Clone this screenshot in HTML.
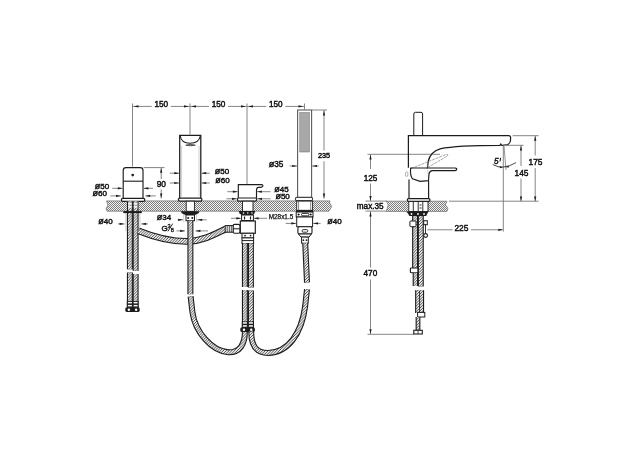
<!DOCTYPE html>
<html><head><meta charset="utf-8"><style>
html,body{margin:0;padding:0;background:#fff;}
svg{display:block;will-change:transform;}
text{font-family:"Liberation Sans",sans-serif;fill:#111;}
</style></head><body>
<svg width="640" height="451" viewBox="0 0 640 451">
<defs>
<pattern id="ct" width="2" height="2" patternUnits="userSpaceOnUse">
<rect width="2" height="2" fill="#f2f2f2"/><rect width="1" height="1" fill="#7e7e7e"/><rect x="1" y="1" width="1" height="1" fill="#7e7e7e"/>
</pattern>
<pattern id="br" width="2.8" height="2.8" patternUnits="userSpaceOnUse">
<rect width="2.8" height="2.8" fill="#f4f4f4"/><path d="M-0.7,0.7 L0.7,-0.7 M0,2.8 L2.8,0 M2.1,3.5 L3.5,2.1" stroke="#262626" stroke-width="0.85"/>
</pattern>
</defs>
<rect width="640" height="451" fill="#fff"/>

<line x1="132.5" y1="103.5" x2="132.5" y2="166.5" stroke="#858585" stroke-width="1.0" />
<line x1="190" y1="103.5" x2="190" y2="134.5" stroke="#858585" stroke-width="1.0" />
<line x1="247" y1="103.5" x2="247" y2="184" stroke="#858585" stroke-width="1.0" />
<line x1="304.5" y1="103.5" x2="304.5" y2="109.4" stroke="#858585" stroke-width="1.0" />
<line x1="132.5" y1="106.4" x2="151.75" y2="106.4" stroke="#858585" stroke-width="1.0" />
<line x1="170.75" y1="106.4" x2="190" y2="106.4" stroke="#858585" stroke-width="1.0" />
<path d="M133.70,106.40 L138.50,105.30 L138.50,107.50Z" fill="#1c1c1c"/>
<path d="M188.80,106.40 L184.00,107.50 L184.00,105.30Z" fill="#1c1c1c"/>
<text x="161.25" y="107.20" font-size="8.2" text-anchor="middle" stroke="#111" stroke-width="0.45" >150</text>
<line x1="190" y1="106.4" x2="209.0" y2="106.4" stroke="#858585" stroke-width="1.0" />
<line x1="228.0" y1="106.4" x2="247" y2="106.4" stroke="#858585" stroke-width="1.0" />
<path d="M191.20,106.40 L196.00,105.30 L196.00,107.50Z" fill="#1c1c1c"/>
<path d="M245.80,106.40 L241.00,107.50 L241.00,105.30Z" fill="#1c1c1c"/>
<text x="218.5" y="107.20" font-size="8.2" text-anchor="middle" stroke="#111" stroke-width="0.45" >150</text>
<line x1="247" y1="106.4" x2="266.25" y2="106.4" stroke="#858585" stroke-width="1.0" />
<line x1="285.25" y1="106.4" x2="304.5" y2="106.4" stroke="#858585" stroke-width="1.0" />
<path d="M248.20,106.40 L253.00,105.30 L253.00,107.50Z" fill="#1c1c1c"/>
<path d="M303.30,106.40 L298.50,107.50 L298.50,105.30Z" fill="#1c1c1c"/>
<text x="275.75" y="107.20" font-size="8.2" text-anchor="middle" stroke="#111" stroke-width="0.45" >150</text>
<path d="M107,200.9 L330,200.9 L329.6,202.5 L331.7,206.7 L328.8,211.2 L107,211.2 L106.2,208.5 L108,205 L106.5,200.9Z" fill="url(#ct)" stroke="#6a6a6a" stroke-width="0.7"/>
<path d="M123.2,198.3 L123.2,170.5 Q123.2,167.6 126,167.6 L140.2,167.6 Q143,167.6 143,170.5 L143,198.3" fill="#fff" stroke="#1c1c1c" stroke-width="1.15"/>
<line x1="123.2" y1="181.2" x2="143" y2="181.2" stroke="#1c1c1c" stroke-width="1.1" />
<circle cx="132.7" cy="175.1" r="1.35" fill="#1c1c1c"/>
<rect x="121.4" y="198.3" width="23.4" height="3" rx="1.4" fill="#fff" stroke="#1c1c1c" stroke-width="1.2"/>
<line x1="143.5" y1="167.6" x2="164.5" y2="167.6" stroke="#858585" stroke-width="1.0" />
<line x1="161.2" y1="167.6" x2="161.2" y2="179" stroke="#858585" stroke-width="1.0" />
<line x1="161.2" y1="189.5" x2="161.2" y2="198.3" stroke="#858585" stroke-width="1.0" />
<path d="M161.20,167.90 L162.30,172.70 L160.10,172.70Z" fill="#1c1c1c"/>
<path d="M161.20,198.30 L160.10,193.50 L162.30,193.50Z" fill="#1c1c1c"/>
<text x="161.3" y="186.80" font-size="8.4" text-anchor="middle" stroke="#111" stroke-width="0.45" >90</text>
<text x="109.2" y="188.80" font-size="8" text-anchor="end" stroke="#111" stroke-width="0.45" ><tspan font-size="9.0">ø</tspan>50</text>
<line x1="112.2" y1="188.3" x2="122.60000000000001" y2="188.3" stroke="#858585" stroke-width="1.0" />
<path d="M122.60,188.30 L117.80,189.40 L117.80,187.20Z" fill="#1c1c1c"/>
<line x1="143.6" y1="188.3" x2="153" y2="188.3" stroke="#858585" stroke-width="1.0" />
<path d="M143.60,188.30 L148.40,187.20 L148.40,189.40Z" fill="#1c1c1c"/>
<text x="107" y="196.40" font-size="8" text-anchor="end" stroke="#111" stroke-width="0.45" ><tspan font-size="9.0">ø</tspan>60</text>
<line x1="110.4" y1="195.9" x2="120.80000000000001" y2="195.9" stroke="#858585" stroke-width="1.0" />
<path d="M120.80,195.90 L116.00,197.00 L116.00,194.80Z" fill="#1c1c1c"/>
<line x1="145.4" y1="195.9" x2="155.8" y2="195.9" stroke="#858585" stroke-width="1.0" />
<path d="M145.40,195.90 L150.20,194.80 L150.20,197.00Z" fill="#1c1c1c"/>
<path d="M179.7,198.2 L179.7,135.3 L200.8,135.3 L200.8,198.2" fill="#fff" stroke="#1c1c1c" stroke-width="1.25"/>
<path d="M180.2,136 C181,141 185,143.2 190,143.2 C195,143.2 199.5,141 200.3,136" fill="none" stroke="#1c1c1c" stroke-width="1.1"/>
<path d="M185.7,145.2 Q190.3,143.4 195.3,145.2 Q190.3,146.4 185.7,145.2Z" fill="#888" stroke="#333" stroke-width="0.7"/>
<line x1="181.6" y1="146" x2="181.6" y2="196.5" stroke="#c4c4c4" stroke-width="0.8" />
<line x1="199.0" y1="146" x2="199.0" y2="196.5" stroke="#c4c4c4" stroke-width="0.8" />
<rect x="178.4" y="198.2" width="23.5" height="3" rx="1.4" fill="#fff" stroke="#1c1c1c" stroke-width="1.2"/>
<text x="222" y="173.50" font-size="8" text-anchor="middle" stroke="#111" stroke-width="0.45" ><tspan font-size="9.0">ø</tspan>50</text>
<line x1="169.7" y1="173.2" x2="179.1" y2="173.2" stroke="#858585" stroke-width="1.0" />
<path d="M179.10,173.20 L174.30,174.30 L174.30,172.10Z" fill="#1c1c1c"/>
<line x1="201.4" y1="173.2" x2="209.8" y2="173.2" stroke="#858585" stroke-width="1.0" />
<path d="M201.40,173.20 L206.20,172.10 L206.20,174.30Z" fill="#1c1c1c"/>
<text x="222.5" y="183.20" font-size="8" text-anchor="middle" stroke="#111" stroke-width="0.45" ><tspan font-size="9.0">ø</tspan>60</text>
<line x1="169.7" y1="183.0" x2="179.1" y2="183.0" stroke="#858585" stroke-width="1.0" />
<path d="M179.10,183.00 L174.30,184.10 L174.30,181.90Z" fill="#1c1c1c"/>
<line x1="201.4" y1="183.0" x2="209.8" y2="183.0" stroke="#858585" stroke-width="1.0" />
<path d="M201.40,183.00 L206.20,181.90 L206.20,184.10Z" fill="#1c1c1c"/>
<path d="M238.3,198 L238.3,184.6 L261.5,184.6 Q263.2,184.8 262.8,186.2 Q262.3,187.3 260.5,187.3 L258.5,187.3 Q256.5,187.6 256.5,190 L256.5,198" fill="#fff" stroke="#1c1c1c" stroke-width="1.15"/>
<rect x="237.4" y="198" width="19.2" height="3.2" rx="1.4" fill="#fff" stroke="#1c1c1c" stroke-width="1.2"/>
<text x="281.4" y="191.90" font-size="8" text-anchor="middle" stroke="#111" stroke-width="0.45" ><tspan font-size="9.0">ø</tspan>45</text>
<line x1="227.3" y1="191.7" x2="237.70000000000002" y2="191.7" stroke="#858585" stroke-width="1.0" />
<path d="M237.70,191.70 L232.90,192.80 L232.90,190.60Z" fill="#1c1c1c"/>
<line x1="257.1" y1="191.7" x2="270.5" y2="191.7" stroke="#858585" stroke-width="1.0" />
<path d="M257.10,191.70 L261.90,190.60 L261.90,192.80Z" fill="#1c1c1c"/>
<text x="282.6" y="199.40" font-size="8" text-anchor="middle" stroke="#111" stroke-width="0.45" ><tspan font-size="9.0">ø</tspan>50</text>
<line x1="226.4" y1="198.8" x2="236.8" y2="198.8" stroke="#858585" stroke-width="1.0" />
<path d="M236.80,198.80 L232.00,199.90 L232.00,197.70Z" fill="#1c1c1c"/>
<line x1="257.20000000000005" y1="198.8" x2="270.6" y2="198.8" stroke="#858585" stroke-width="1.0" />
<path d="M257.20,198.80 L262.00,197.70 L262.00,199.90Z" fill="#1c1c1c"/>
<rect x="297.6" y="110" width="14" height="87.6" rx="0" fill="#fff" stroke="#5a5a5a" stroke-width="1.1"/>
<rect x="299.8" y="112.6" width="9.6" height="39.4" fill="#a8a8a8" stroke="#666" stroke-width="0.5"/>
<rect x="295.4" y="197.4" width="17.2" height="3.2" rx="1.4" fill="#fff" stroke="#444" stroke-width="1.1"/>
<line x1="312" y1="110" x2="327" y2="110" stroke="#858585" stroke-width="1.0" />
<line x1="324.0" y1="110" x2="324.0" y2="150.5" stroke="#858585" stroke-width="1.0" />
<line x1="324.0" y1="161.3" x2="324.0" y2="198.6" stroke="#858585" stroke-width="1.0" />
<path d="M324.00,110.60 L325.10,115.40 L322.90,115.40Z" fill="#1c1c1c"/>
<path d="M324.00,198.40 L322.90,193.60 L325.10,193.60Z" fill="#1c1c1c"/>
<text x="324.0" y="158.00" font-size="7.3" text-anchor="middle" stroke="#111" stroke-width="0.45" >235</text>
<text x="276" y="166.80" font-size="8.2" text-anchor="middle" stroke="#111" stroke-width="0.45" ><tspan font-size="9.2">ø</tspan>35</text>
<line x1="289.6" y1="166" x2="297.0" y2="166" stroke="#858585" stroke-width="1.0" />
<path d="M297.00,166.00 L292.20,167.10 L292.20,164.90Z" fill="#1c1c1c"/>
<line x1="312.20000000000005" y1="166" x2="318.6" y2="166" stroke="#858585" stroke-width="1.0" />
<path d="M312.20,166.00 L317.00,164.90 L317.00,167.10Z" fill="#1c1c1c"/>
<line x1="125.9" y1="213" x2="125.9" y2="231" stroke="#aaa" stroke-width="0.6" />
<line x1="139.9" y1="213" x2="139.9" y2="231" stroke="#aaa" stroke-width="0.6" />
<rect x="126.8" y="201.2" width="11.8" height="10.1" fill="#fff"/>
<path d="M129.9,201.2 L129.9,212" fill="none" stroke="#1c1c1c" stroke-width="6.0" stroke-linecap="butt"/>
<path d="M129.9,201.2 L129.9,212" fill="none" stroke="url(#br)" stroke-width="3.8" stroke-linecap="butt"/>
<path d="M135.6,201.2 L135.6,212" fill="none" stroke="#1c1c1c" stroke-width="6.0" stroke-linecap="butt"/>
<path d="M135.6,201.2 L135.6,212" fill="none" stroke="url(#br)" stroke-width="3.8" stroke-linecap="butt"/>
<rect x="128" y="203.2" width="3.8" height="1.4" fill="#fff"/>
<rect x="133.7" y="203.2" width="3.8" height="1.4" fill="#fff"/>
<rect x="128" y="206.2" width="3.8" height="1.4" fill="#fff"/>
<rect x="133.7" y="206.2" width="3.8" height="1.4" fill="#fff"/>
<rect x="123.3" y="211.1" width="18.5" height="2" fill="#1c1c1c"/>
<path d="M129.9,213 L129.9,269.3" fill="none" stroke="#1c1c1c" stroke-width="6.0" stroke-linecap="butt"/>
<path d="M129.9,213 L129.9,269.3" fill="none" stroke="url(#br)" stroke-width="3.8" stroke-linecap="butt"/>
<path d="M135.6,213 L135.6,270.8" fill="none" stroke="#1c1c1c" stroke-width="6.0" stroke-linecap="butt"/>
<path d="M135.6,213 L135.6,270.8" fill="none" stroke="url(#br)" stroke-width="3.8" stroke-linecap="butt"/>
<path d="M129.9,272.5 L129.9,308" fill="none" stroke="#1c1c1c" stroke-width="6.0" stroke-linecap="butt"/>
<path d="M129.9,272.5 L129.9,308" fill="none" stroke="url(#br)" stroke-width="3.8" stroke-linecap="butt"/>
<path d="M135.6,274 L135.6,308" fill="none" stroke="#1c1c1c" stroke-width="6.0" stroke-linecap="butt"/>
<path d="M135.6,274 L135.6,308" fill="none" stroke="url(#br)" stroke-width="3.8" stroke-linecap="butt"/>
<rect x="126.8" y="301" width="11.8" height="6.8" fill="#1c1c1c"/>
<rect x="127.9" y="301.9" width="4" height="1.5" fill="#fff"/>
<rect x="133.6" y="301.9" width="4" height="1.5" fill="#fff"/>
<rect x="127.9" y="304.9" width="4" height="1.5" fill="#fff"/>
<rect x="133.6" y="304.9" width="4" height="1.5" fill="#fff"/>
<rect x="125.3" y="307.6" width="14.4" height="4.3" rx="1.4" fill="#1c1c1c"/>
<circle cx="128.90" cy="309.75" r="1.25" fill="#fff"/>
<circle cx="136.10" cy="309.75" r="1.25" fill="#fff"/>
<text x="112.6" y="224.00" font-size="8" text-anchor="end" stroke="#111" stroke-width="0.45" ><tspan font-size="9.0">ø</tspan>40</text>
<line x1="117.9" y1="223.9" x2="124.4" y2="223.9" stroke="#858585" stroke-width="1.0" />
<path d="M124.40,223.90 L119.60,225.00 L119.60,222.80Z" fill="#1c1c1c"/>
<line x1="141.4" y1="223.9" x2="147.9" y2="223.9" stroke="#858585" stroke-width="1.0" />
<path d="M141.40,223.90 L146.20,222.80 L146.20,225.00Z" fill="#1c1c1c"/>
<rect x="186.2" y="201.2" width="8.2" height="10.1" rx="0" fill="#fff" stroke="#1c1c1c" stroke-width="0.9"/>
<line x1="183.7" y1="214" x2="183.7" y2="222" stroke="#aaa" stroke-width="0.6" />
<line x1="196.6" y1="214" x2="196.6" y2="222" stroke="#aaa" stroke-width="0.6" />
<path d="M180.6,211.3 L199.7,211.3 L198.5,213.2 L194.8,215 L185.5,215 L181.8,213.2Z" fill="#1c1c1c"/>
<rect x="186" y="215" width="8.5" height="5.7" rx="0" fill="#fff" stroke="#1c1c1c" stroke-width="1.0"/>
<circle cx="188.2" cy="217.9" r="1" fill="#1c1c1c"/><circle cx="192.3" cy="217.9" r="1" fill="#1c1c1c"/>
<path d="M138.5,230.8 C154,237 172,241.8 189,241.3 C204,240.8 216,233.5 226,228.8" fill="none" stroke="#1c1c1c" stroke-width="6.8" stroke-linecap="butt"/>
<path d="M138.5,230.8 C154,237 172,241.8 189,241.3 C204,240.8 216,233.5 226,228.8" fill="none" stroke="url(#br)" stroke-width="4.6" stroke-linecap="butt"/>
<path d="M190.4,220.7 L190.4,294.2" fill="none" stroke="#1c1c1c" stroke-width="6.0" stroke-linecap="butt"/>
<path d="M190.4,220.7 L190.4,294.2" fill="none" stroke="url(#br)" stroke-width="3.8" stroke-linecap="butt"/>
<path d="M190.6,296.4 L192.4,312 C195,332 212,351.5 228.5,352.3 C240,352.5 244.9,344 244.9,331.5" fill="none" stroke="#1c1c1c" stroke-width="6.0" stroke-linecap="butt"/>
<path d="M190.6,296.4 L192.4,312 C195,332 212,351.5 228.5,352.3 C240,352.5 244.9,344 244.9,331.5" fill="none" stroke="url(#br)" stroke-width="3.8" stroke-linecap="butt"/>
<text x="171.2" y="220.00" font-size="8" text-anchor="end" stroke="#111" stroke-width="0.45" ><tspan font-size="9.0">ø</tspan>34</text>
<line x1="177.7" y1="219.8" x2="182.89999999999998" y2="219.8" stroke="#858585" stroke-width="1.0" />
<path d="M182.90,219.80 L178.10,220.90 L178.10,218.70Z" fill="#1c1c1c"/>
<line x1="197.4" y1="219.8" x2="206.6" y2="219.8" stroke="#858585" stroke-width="1.0" />
<path d="M197.40,219.80 L202.20,218.70 L202.20,220.90Z" fill="#1c1c1c"/>
<text x="164.6" y="230.80" font-size="8.0" text-anchor="middle" stroke="#111" stroke-width="0.45" >G</text>
<text x="169.0" y="227.50" font-size="5.6" text-anchor="middle" stroke="#111" stroke-width="0.3" >3</text>
<line x1="167.9" y1="231.4" x2="172.8" y2="223.6" stroke="#1c1c1c" stroke-width="0.9"/>
<text x="172.2" y="231.80" font-size="5.6" text-anchor="middle" stroke="#111" stroke-width="0.3" >8</text>
<line x1="176.5" y1="230.9" x2="184.9" y2="230.9" stroke="#858585" stroke-width="1.0" />
<path d="M184.90,230.90 L180.10,232.00 L180.10,229.80Z" fill="#1c1c1c"/>
<line x1="195.6" y1="230.9" x2="208.0" y2="230.9" stroke="#858585" stroke-width="1.0" />
<path d="M195.60,230.90 L200.40,229.80 L200.40,232.00Z" fill="#1c1c1c"/>
<rect x="242.5" y="201.2" width="10.5" height="10.1" rx="0" fill="#fff" stroke="#1c1c1c" stroke-width="0.9"/>
<path d="M238.6,211.1 L255.3,211.1 L254.5,213.2 L253,215 L241.5,215 L239.5,213.2Z" fill="#1c1c1c"/>
<circle cx="243.5" cy="213" r="0.8" fill="#fff"/><circle cx="247.8" cy="213" r="0.8" fill="#fff"/><circle cx="252" cy="213" r="0.8" fill="#fff"/>
<rect x="241.6" y="215" width="11.8" height="5.5" rx="0" fill="#fff" stroke="#1c1c1c" stroke-width="1.0"/>
<line x1="244.5" y1="216.5" x2="244.5" y2="219.5" stroke="#1c1c1c" stroke-width="1.2" />
<line x1="250.5" y1="216.5" x2="250.5" y2="219.5" stroke="#1c1c1c" stroke-width="1.2" />
<line x1="231" y1="218.3" x2="240.5" y2="218.3" stroke="#858585" stroke-width="1.0" />
<path d="M241.20,218.30 L236.40,219.40 L236.40,217.20Z" fill="#1c1c1c"/>
<line x1="253.8" y1="218.3" x2="267" y2="218.3" stroke="#858585" stroke-width="1.0" />
<path d="M253.80,218.30 L258.60,217.20 L258.60,219.40Z" fill="#1c1c1c"/>
<text x="281" y="218.60" font-size="6.4" text-anchor="middle" stroke="#111" stroke-width="0.25" >M28x1.5</text>
<rect x="240.3" y="221" width="15" height="12.3" rx="0" fill="#fff" stroke="#1c1c1c" stroke-width="1.15"/>
<rect x="233.1" y="224.4" width="6.8" height="8.9" rx="1.5" fill="#fff" stroke="#1c1c1c" stroke-width="1.1"/>
<line x1="233.1" y1="228.8" x2="239.9" y2="228.8" stroke="#1c1c1c" stroke-width="1.0" />
<rect x="225.2" y="225.6" width="7.9" height="6.6" rx="0" fill="#fff" stroke="#1c1c1c" stroke-width="1.0"/>
<line x1="227.2" y1="225.6" x2="227.2" y2="232.2" stroke="#1c1c1c" stroke-width="0.8" />
<line x1="229.3" y1="225.6" x2="229.3" y2="232.2" stroke="#1c1c1c" stroke-width="0.8" />
<line x1="231.3" y1="225.6" x2="231.3" y2="232.2" stroke="#1c1c1c" stroke-width="0.8" />
<rect x="242" y="233.3" width="11.6" height="4.6" rx="0" fill="#fff" stroke="#1c1c1c" stroke-width="1.0"/>
<circle cx="245" cy="235.6" r="0.9" fill="#1c1c1c"/><circle cx="250.6" cy="235.6" r="0.9" fill="#1c1c1c"/>
<rect x="242" y="237.9" width="11.6" height="5.6" rx="0" fill="#fff" stroke="#1c1c1c" stroke-width="1.0"/>
<line x1="242" y1="240.6" x2="253.6" y2="240.6" stroke="#1c1c1c" stroke-width="1.0" />
<path d="M244.9,243.3 L244.9,287" fill="none" stroke="#1c1c1c" stroke-width="6.0" stroke-linecap="butt"/>
<path d="M244.9,243.3 L244.9,287" fill="none" stroke="url(#br)" stroke-width="3.8" stroke-linecap="butt"/>
<path d="M250.9,243.3 L250.9,287.5" fill="none" stroke="#1c1c1c" stroke-width="6.0" stroke-linecap="butt"/>
<path d="M250.9,243.3 L250.9,287.5" fill="none" stroke="url(#br)" stroke-width="3.8" stroke-linecap="butt"/>
<path d="M244.9,290 L244.9,328" fill="none" stroke="#1c1c1c" stroke-width="6.0" stroke-linecap="butt"/>
<path d="M244.9,290 L244.9,328" fill="none" stroke="url(#br)" stroke-width="3.8" stroke-linecap="butt"/>
<path d="M250.9,290.5 L250.9,328" fill="none" stroke="#1c1c1c" stroke-width="6.0" stroke-linecap="butt"/>
<path d="M250.9,290.5 L250.9,328" fill="none" stroke="url(#br)" stroke-width="3.8" stroke-linecap="butt"/>
<rect x="241.8" y="321.4" width="12.2" height="6.8" fill="#1c1c1c"/>
<rect x="242.9" y="322.2" width="4" height="1.5" fill="#fff"/>
<rect x="248.9" y="322.2" width="4" height="1.5" fill="#fff"/>
<rect x="242.9" y="325.2" width="4" height="1.5" fill="#fff"/>
<rect x="248.9" y="325.2" width="4" height="1.5" fill="#fff"/>
<rect x="240.3" y="327.6" width="14.6" height="4.3" rx="1.4" fill="#1c1c1c"/>
<circle cx="243.95" cy="329.75" r="1.25" fill="#fff"/>
<circle cx="251.25" cy="329.75" r="1.25" fill="#fff"/>
<path d="M251.2,331.5 C251.2,346 256,353 268,353 C288,352.5 301.5,334 305.2,306 L307.0,289.2" fill="none" stroke="#1c1c1c" stroke-width="6.0" stroke-linecap="butt"/>
<path d="M251.2,331.5 C251.2,346 256,353 268,353 C288,352.5 301.5,334 305.2,306 L307.0,289.2" fill="none" stroke="url(#br)" stroke-width="3.8" stroke-linecap="butt"/>
<rect x="296.7" y="201.1" width="15.9" height="9.2" rx="0" fill="#fff" stroke="#1c1c1c" stroke-width="0.9"/>
<line x1="298.6" y1="201.1" x2="298.6" y2="210.3" stroke="#555" stroke-width="0.7" />
<line x1="310.7" y1="201.1" x2="310.7" y2="210.3" stroke="#555" stroke-width="0.7" />
<rect x="296" y="210.2" width="17.2" height="2" fill="#1c1c1c"/>
<rect x="296.2" y="212" width="16.8" height="5" rx="0" fill="#fff" stroke="#1c1c1c" stroke-width="1.0"/>
<circle cx="298.6" cy="214.5" r="1.1" fill="#1c1c1c"/><circle cx="310.7" cy="214.5" r="1.1" fill="#1c1c1c"/>
<rect x="301.6" y="213.3" width="7.3" height="2.6" rx="1.2" fill="#fff" stroke="#1c1c1c" stroke-width="1.0"/>
<rect x="296.7" y="217" width="15.9" height="9.7" rx="0" fill="#fff" stroke="#1c1c1c" stroke-width="1.0"/>
<rect x="297.9" y="226.7" width="14.1" height="7.3" rx="1.6" fill="#fff" stroke="#1c1c1c" stroke-width="1.1"/>
<rect x="302.2" y="229.6" width="5.5" height="2.6" rx="1" fill="#fff" stroke="#1c1c1c" stroke-width="0.9"/>
<path d="M298.5,234 L311.4,234 L309,237.1 L301,237.1Z" fill="#fff" stroke="#1c1c1c" stroke-width="1"/>
<rect x="301.6" y="237.1" width="6.7" height="6.1" rx="0" fill="#fff" stroke="#1c1c1c" stroke-width="1.0"/>
<circle cx="303.4" cy="240.2" r="0.9" fill="#1c1c1c"/><circle cx="306.5" cy="240.2" r="0.9" fill="#1c1c1c"/>
<path d="M305.2,243.2 L307.0,282.5" fill="none" stroke="#1c1c1c" stroke-width="6.0" stroke-linecap="butt"/>
<path d="M305.2,243.2 L307.0,282.5" fill="none" stroke="url(#br)" stroke-width="3.8" stroke-linecap="butt"/>
<text x="334.4" y="224.20" font-size="8" text-anchor="middle" stroke="#111" stroke-width="0.45" ><tspan font-size="9.0">ø</tspan>40</text>
<line x1="285.7" y1="223.4" x2="296.09999999999997" y2="223.4" stroke="#858585" stroke-width="1.0" />
<path d="M296.10,223.40 L291.30,224.50 L291.30,222.30Z" fill="#1c1c1c"/>
<line x1="313.20000000000005" y1="223.4" x2="320.6" y2="223.4" stroke="#858585" stroke-width="1.0" />
<path d="M313.20,223.40 L318.00,222.30 L318.00,224.50Z" fill="#1c1c1c"/>
<line x1="367.5" y1="154.3" x2="440" y2="154.3" stroke="#858585" stroke-width="1.0" />
<line x1="370.5" y1="154.3" x2="370.5" y2="169" stroke="#858585" stroke-width="1.0" />
<line x1="370.5" y1="183.5" x2="370.5" y2="201.1" stroke="#858585" stroke-width="1.0" />
<path d="M370.50,154.60 L371.60,159.40 L369.40,159.40Z" fill="#1c1c1c"/>
<path d="M370.50,200.90 L369.40,196.10 L371.60,196.10Z" fill="#1c1c1c"/>
<text x="370.6" y="181.20" font-size="8.2" text-anchor="middle" stroke="#111" stroke-width="0.45" >125</text>
<line x1="365.5" y1="201.1" x2="387" y2="201.1" stroke="#858585" stroke-width="1.0" />
<line x1="365.5" y1="211.1" x2="387" y2="211.1" stroke="#858585" stroke-width="1.0" />
<text x="370.2" y="209.20" font-size="8.2" text-anchor="middle" stroke="#111" stroke-width="0.45" >max.35</text>
<line x1="370.5" y1="211.3" x2="370.5" y2="267.5" stroke="#858585" stroke-width="1.0" />
<line x1="370.5" y1="279.5" x2="370.5" y2="334" stroke="#858585" stroke-width="1.0" />
<path d="M370.50,211.60 L371.60,216.40 L369.40,216.40Z" fill="#1c1c1c"/>
<path d="M370.50,334.00 L369.40,329.20 L371.60,329.20Z" fill="#1c1c1c"/>
<text x="370.4" y="275.80" font-size="8.2" text-anchor="middle" stroke="#111" stroke-width="0.45" >470</text>
<line x1="367.5" y1="334.3" x2="414" y2="334.3" stroke="#858585" stroke-width="1.0" />
<path d="M386.4,201.2 L447,201.2 L445.4,204.8 L447.9,208.3 L447,211.4 L386.4,211.4 L388.2,204.8Z" fill="url(#ct)" stroke="#6a6a6a" stroke-width="0.7"/>
<line x1="449" y1="201.2" x2="538.5" y2="201.2" stroke="#858585" stroke-width="1.0" />
<path d="M413.8,135.5 L413.8,114 Q413.8,112.3 415.5,112.3 L421,112.3 Q422.6,112.3 422.6,114 L422.6,135.5" fill="#fff" stroke="#1c1c1c" stroke-width="1.0"/>
<path d="M408.4,167.8 L408.4,135.6 L509,135.6 Q510.8,135.8 510.6,138 L510.4,141 Q510,143.6 507.6,144.6 L502.5,145.3 Q501.2,145.3 500.8,144.2 L500,145.4 C485,145.4 455,145.8 440,148.8 C433,151 429.5,156 428.3,161 L427.4,167.8" fill="none" stroke="#1c1c1c" stroke-width="1.25"/>
<path d="M411,168.6 L446.2,154.4 Q448.6,153.8 447.6,155.9 L426.5,168.2" fill="none" stroke="#8a8a8a" stroke-width="0.75" stroke-dasharray="3 0.8"/>
<path d="M427.2,165 L428.4,176.5" fill="none" stroke="#9a9a9a" stroke-width="0.7" stroke-dasharray="1.5 1"/>
<ellipse cx="406.7" cy="174.2" rx="1.3" ry="2.4" fill="none" stroke="#8a8a8a" stroke-width="0.7"/>
<path d="M410.6,168 L455.2,168 Q456.9,168.3 456.7,169.3 Q456.5,170.6 455,170.6 L432,170.6 Q429.5,171 429,174 L428.5,180.6 L420,181.3 L412.5,178.8 Q410,176 410.6,168Z" fill="none" stroke="#1c1c1c" stroke-width="1.15"/>
<path d="M409,179.5 L409,198.6 M428.6,181 L428.6,198.6" stroke="#1c1c1c" stroke-width="1.15"/>
<rect x="407.3" y="198.6" width="22.7" height="2.8" rx="1.3" fill="#fff" stroke="#1c1c1c" stroke-width="1.2"/>
<line x1="512.6" y1="135.7" x2="538.5" y2="135.7" stroke="#858585" stroke-width="1.0" />
<line x1="535.2" y1="135.7" x2="535.2" y2="155.5" stroke="#858585" stroke-width="1.0" />
<line x1="535.2" y1="168" x2="535.2" y2="201.2" stroke="#858585" stroke-width="1.0" />
<path d="M535.20,136.00 L536.30,140.80 L534.10,140.80Z" fill="#1c1c1c"/>
<path d="M535.20,201.20 L534.10,196.40 L536.30,196.40Z" fill="#1c1c1c"/>
<text x="535.5" y="164.60" font-size="8.4" text-anchor="middle" stroke="#111" stroke-width="0.45" >175</text>
<line x1="504" y1="145.3" x2="523.5" y2="145.3" stroke="#858585" stroke-width="1.0" />
<line x1="521" y1="145.3" x2="521" y2="166" stroke="#858585" stroke-width="1.0" />
<line x1="521" y1="178.5" x2="521" y2="201.2" stroke="#858585" stroke-width="1.0" />
<path d="M521.00,145.60 L522.10,150.40 L519.90,150.40Z" fill="#1c1c1c"/>
<path d="M521.00,201.20 L519.90,196.40 L522.10,196.40Z" fill="#1c1c1c"/>
<text x="521.5" y="175.60" font-size="8.4" text-anchor="middle" stroke="#111" stroke-width="0.45" >145</text>
<line x1="503.3" y1="145.3" x2="503.3" y2="231.6" stroke="#777" stroke-width="0.9" />
<line x1="504.0" y1="146" x2="506.0" y2="170" stroke="#777" stroke-width="0.8" />
<path d="M492.8,164.6 Q503,170.5 516,162.6" fill="none" stroke="#1c1c1c" stroke-width="0.8"/>
<path d="M502.80,167.40 L499.75,168.35 L499.86,166.15Z" fill="#1c1c1c"/>
<path d="M505.80,167.30 L508.36,165.38 L508.99,167.49Z" fill="#1c1c1c"/>
<text x="496.4" y="163.60" font-size="8.2" text-anchor="middle" stroke="#111" stroke-width="0.45" font-style="italic">5</text>
<path d="M500.6,158.2 L500.1,161.0" stroke="#1c1c1c" stroke-width="1.1" stroke-linecap="round"/>
<rect x="408.8" y="201.5" width="19.2" height="10" rx="0" fill="#fff" stroke="#1c1c1c" stroke-width="0.9"/>
<line x1="413.3" y1="201.5" x2="413.3" y2="211.5" stroke="#1c1c1c" stroke-width="0.9" />
<line x1="418.2" y1="201.5" x2="418.2" y2="211.5" stroke="#1c1c1c" stroke-width="0.9" />
<line x1="422.8" y1="201.5" x2="422.8" y2="211.5" stroke="#1c1c1c" stroke-width="0.9" />
<line x1="419.5" y1="205" x2="421.5" y2="205" stroke="#1c1c1c" stroke-width="0.9" />
<line x1="419.5" y1="208" x2="421.5" y2="208" stroke="#1c1c1c" stroke-width="0.9" />
<path d="M406.2,211.4 L428.6,211.4 L427.4,213.6 L426.2,216 L409.4,216 L408,213.6Z" fill="#1c1c1c"/>
<circle cx="411.5" cy="214" r="0.9" fill="#fff"/><circle cx="418" cy="214" r="0.9" fill="#fff"/><circle cx="424" cy="214" r="0.9" fill="#fff"/>
<path d="M415.1,216 L415.1,268.3" fill="none" stroke="#1c1c1c" stroke-width="6" stroke-linecap="butt"/>
<path d="M415.1,216 L415.1,268.3" fill="none" stroke="url(#br)" stroke-width="3.8" stroke-linecap="butt"/>
<path d="M420.8,216 L420.8,286.4" fill="none" stroke="#1c1c1c" stroke-width="6" stroke-linecap="butt"/>
<path d="M420.8,216 L420.8,286.4" fill="none" stroke="url(#br)" stroke-width="3.8" stroke-linecap="butt"/>
<rect x="409.9" y="221" width="6.1" height="5.7" rx="0.8" fill="#fff" stroke="#1c1c1c" stroke-width="1.0"/>
<rect x="423.7" y="220.7" width="3.6" height="4.0" rx="0" fill="#fff" stroke="#1c1c1c" stroke-width="1.0"/>
<line x1="425.5" y1="224.7" x2="425.5" y2="233" stroke="#1c1c1c" stroke-width="0.9" />
<circle cx="425.6" cy="235.5" r="1.9" fill="#fff" stroke="#1c1c1c" stroke-width="1.1"/>
<line x1="427.3" y1="229.8" x2="452.5" y2="229.8" stroke="#858585" stroke-width="1.0" />
<line x1="471" y1="229.8" x2="502.5" y2="229.8" stroke="#858585" stroke-width="1.0" />
<path d="M503.10,229.80 L498.30,230.90 L498.30,228.70Z" fill="#1c1c1c"/>
<text x="461.4" y="230.50" font-size="8.4" text-anchor="middle" stroke="#111" stroke-width="0.45" >225</text>
<rect x="410.4" y="268" width="7.5" height="4.8" rx="0.8" fill="#fff" stroke="#1c1c1c" stroke-width="1.1"/>
<path d="M415.4,272.8 L415.4,286" fill="none" stroke="#1c1c1c" stroke-width="5.5" stroke-linecap="butt"/>
<path d="M415.4,272.8 L415.4,286" fill="none" stroke="url(#br)" stroke-width="3.3" stroke-linecap="butt"/>
<path d="M419.6,290.2 L419.6,313" fill="none" stroke="#1c1c1c" stroke-width="9" stroke-linecap="butt"/>
<path d="M419.6,290.2 L419.6,313" fill="none" stroke="url(#br)" stroke-width="6.8" stroke-linecap="butt"/>
<line x1="419.6" y1="291" x2="419.6" y2="312" stroke="#1c1c1c" stroke-width="0.9" />
<rect x="417.6" y="312.4" width="7.2" height="4.6" rx="0" fill="#fff" stroke="#1c1c1c" stroke-width="1.0"/>
<path d="M418,317 L418,330.3" fill="none" stroke="#1c1c1c" stroke-width="4.8" stroke-linecap="butt"/>
<path d="M418,317 L418,330.3" fill="none" stroke="url(#br)" stroke-width="2.5999999999999996" stroke-linecap="butt"/>
<rect x="413.8" y="330.3" width="8.5" height="3.7" rx="0" fill="#fff" stroke="#1c1c1c" stroke-width="1.1"/>
<line x1="418" y1="330.3" x2="418" y2="334" stroke="#1c1c1c" stroke-width="0.8" />
</svg></body></html>
